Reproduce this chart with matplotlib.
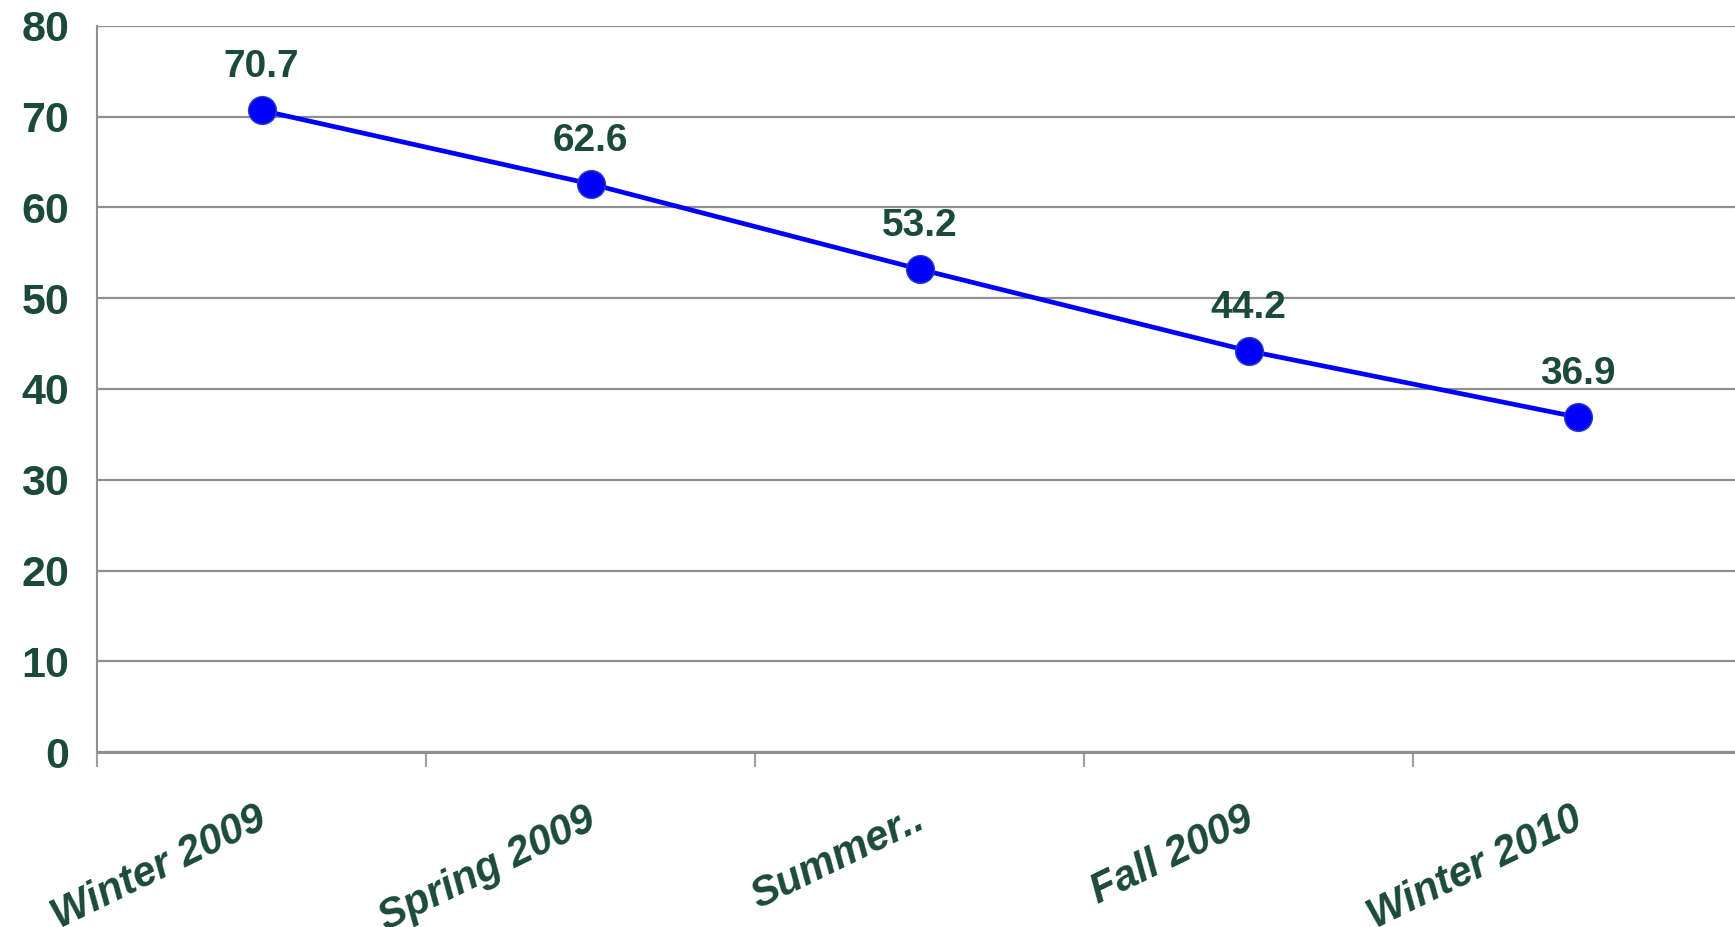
import matplotlib
matplotlib.use("Agg")
import matplotlib.pyplot as plt
import matplotlib.transforms as mtransforms
import numpy as np

categories = ["Winter 2009", "Spring 2009", "Summer..", "Fall 2009", "Winter 2010"]
values = [70.7, 62.6, 53.2, 44.2, 36.9]
yticks = [0, 10, 20, 30, 40, 50, 60, 70, 80]

txt = "#1b4a3c"
grid = "#8c918f"

plt.rcParams['font.family'] = ['Liberation Sans', 'DejaVu Sans']

fig = plt.figure(figsize=(17.35, 9.27), dpi=100)
W, H = 1735, 927
left, right, top, bottom = 97, 1742, 26, 752
ax = fig.add_axes([left / W, 1 - bottom / H, (right - left) / W, (bottom - top) / H])

x = np.arange(len(categories))
ax.plot(x, values, color="#0000ff", lw=3.4, marker="o", markersize=20,
        markerfacecolor="#0000ff", markeredgecolor="#2a3fc0", markeredgewidth=1.0,
        zorder=3, clip_on=False)
for xi, v in zip(x, values):
    ax.annotate(f"{v:.1f}", (xi, v), xytext=(0, 18), textcoords="offset points",
                ha="center", va="bottom", fontsize=28, fontweight="bold", color=txt)

ax.set_xlim(-0.5, len(categories) - 0.5)
ax.set_ylim(0, 80)
ax.set_yticks(yticks)
ax.set_yticklabels([str(t) for t in yticks], fontsize=31, fontweight="bold", color=txt)
ax.tick_params(axis="y", length=0, pad=20)

ax.set_xticks(x)
ax.set_xticklabels(categories, fontsize=30, fontweight="bold", fontstyle="italic",
                   color=txt, rotation=26, ha="right", va="top", rotation_mode="anchor")
ax.tick_params(axis="x", which="major", length=0, pad=34)
shift = mtransforms.ScaledTranslation(-6 / 100, 0, fig.dpi_scale_trans)
for lab in ax.get_xticklabels():
    lab.set_transform(lab.get_transform() + shift)
ax.set_xticks(np.arange(len(categories)) - 0.5, minor=True)
ax.tick_params(axis="x", which="minor", length=11, width=1.5, color="#a0a0a0", direction="out")

ax.grid(axis="y", color=grid, lw=1.6)
ax.set_axisbelow(True)
for s in ["top", "right"]:
    ax.spines[s].set_visible(False)
ax.spines["left"].set_color(grid)
ax.spines["left"].set_linewidth(1.5)
ax.spines["bottom"].set_color(grid)
ax.spines["bottom"].set_linewidth(2.2)

fig.savefig("out.png", dpi=100)
